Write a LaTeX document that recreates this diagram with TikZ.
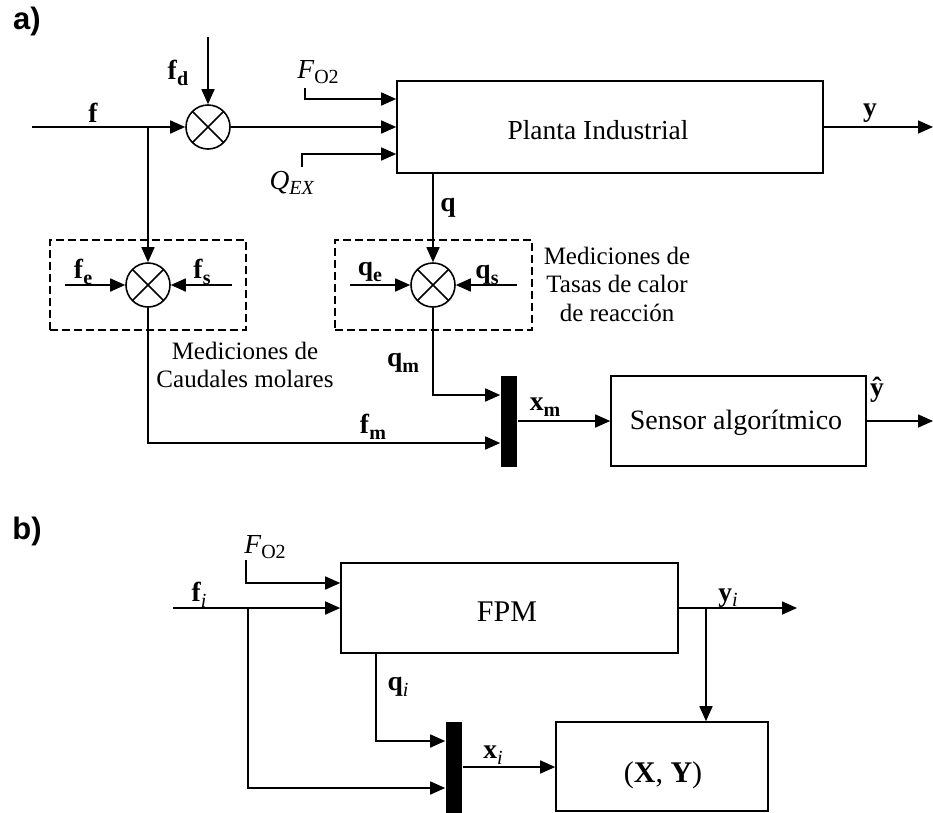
\documentclass[tikz,border=0pt]{standalone}
\usepackage{fontspec}
\setmainfont{Liberation Serif}
\newfontfamily\labfont{Liberation Sans}
\usetikzlibrary{arrows.meta}
\newcommand{\lsub}[1]{\raisebox{-0.2em}{\fontsize{20}{20}\selectfont #1}}
\begin{document}
\begin{tikzpicture}[x=1pt,y=-1pt, font=\fontsize{27.5}{30}\selectfont, line width=1.6pt,
  arr/.style={-{Triangle[length=15pt,width=13pt]}},
  blk/.style={draw, rectangle, inner sep=0, line width=1.6pt},
  sumx/.style={circle, draw, minimum size=44pt, inner sep=0,
    path picture={\draw[line width=1.6pt] (path picture bounding box.north west) -- (path picture bounding box.south east)
      (path picture bounding box.north east) -- (path picture bounding box.south west);}},
  mux/.style={fill=black, draw=none, minimum width=16pt, minimum height=91pt, inner sep=0},
  meas/.style={draw, dash pattern=on 8pt off 4pt, line width=1.4pt, inner sep=0},
  lab/.style={inner sep=0},
  big/.style={inner sep=0, font=\fontsize{30}{32}\selectfont},
  note/.style={inner sep=0, align=center, font=\fontsize{25}{28.5}\selectfont},
  part/.style={inner sep=0, font=\labfont\bfseries\fontsize{31}{34}\selectfont}]
\useasboundingbox (0,0) rectangle (933,812);

% ---------------- part a ----------------
\node[part] (pa) at (27,21) {a)};

\node[blk, minimum width=426pt, minimum height=92pt] (plant) at (610,127) {};
\node[lab] (planttxt) at (598,130) {Planta Industrial};

\node[sumx] (c1) at (208,127) {};
\node[sumx] (c2) at (148,285) {};
\node[sumx] (c3) at (433,285) {};

\node[meas, minimum width=196pt, minimum height=90pt] (mc1) at (148,285) {};
\node[meas, minimum width=197pt, minimum height=90pt] (mc2) at (433.5,285) {};

\node[mux] (mux1) at (509,421) {};
\node[blk, minimum width=255pt, minimum height=90pt] (sensor) at (738.5,421) {};
\node[lab, font=\fontsize{28}{30}\selectfont] (sensortxt) at (736,423) {Sensor algorítmico};

\coordinate (fs0) at (32,127);
\coordinate (br1) at (148,127);
\coordinate (fds) at (208,37);
\coordinate (fo2s) at (305,88);
\coordinate (qexs) at (302,167);
\coordinate (yend) at (933,127);
\coordinate (fes) at (65,285);
\coordinate (fss) at (232,285);
\coordinate (qes) at (350,285);
\coordinate (qss) at (517,285);
\coordinate (yhend) at (933,421);

\draw[arr] (fs0) -- (c1);
\draw[arr] (fds) -- (c1);
\draw[arr] (c1) -- (plant.west |- c1);
\draw[arr] (fo2s) |- ([yshift=28pt]plant.west);
\draw[arr] (qexs) |- ([yshift=-27pt]plant.west);
\draw[arr] (plant.east) -- (yend);
\draw[arr] (c3 |- plant.south) -- (c3);
\draw[arr] (br1) -- (c2);
\draw[arr] (fes) -- (c2);
\draw[arr] (fss) -- (c2);
\draw[arr] (qes) -- (c3);
\draw[arr] (qss) -- (c3);
\draw[arr] (c2.south) |- ([yshift=-22pt]mux1.west);
\draw[arr] (c3.south) |- ([yshift=26pt]mux1.west);
\draw[arr] (mux1.east) -- (sensor.west);
\draw[arr] (sensor.east) -- (yhend);

\node[lab] (lf) at (93,113) {\textbf{f}};
\node[lab] (lfd) at (178,73) {\textbf{f}\lsub{\textbf{d}}};
\node[lab] (lfo2) at (318,72) {\textit{F}\lsub{O2}};
\node[lab] (lqex) at (292,183) {\textit{Q}\lsub{\textit{EX}}};
\node[lab] (ly) at (870,113) {\textbf{y}};
\node[lab] (lq) at (448,208) {\textbf{q}};
\node[lab] (lfe) at (83,272) {\textbf{f}\lsub{\textbf{e}}};
\node[lab] (lfs) at (202,272) {\textbf{f}\lsub{\textbf{s}}};
\node[lab] (lqe) at (370,272) {\textbf{q}\lsub{\textbf{e}}};
\node[lab] (lqs) at (487,275) {\textbf{q}\lsub{\textbf{s}}};
\node[lab] (lqm) at (403,363) {\textbf{q}\lsub{\textbf{m}}};
\node[lab] (lfm) at (373,427) {\textbf{f}\lsub{\textbf{m}}};
\node[lab] (lxm) at (545,407) {\textbf{x}\lsub{\textbf{m}}};
\node[lab] (lyh) at (877,390) {\textbf{ŷ}};
\node[note] (mtxt1) at (245,365) {Mediciones de\\Caudales molares};
\node[note] (mtxt2) at (617,284) {Mediciones de\\Tasas de calor\\de reacción};

% ---------------- part b ----------------
\node[part] (pb) at (27,531) {b)};

\node[blk, minimum width=337pt, minimum height=90pt] (fpm) at (509.5,608) {};
\node[big] (fpmtxt) at (507,612) {FPM};
\node[mux] (mux2) at (454,767) {};
\node[blk, minimum width=212pt, minimum height=89pt] (xy) at (662,766.5) {};
\node[big] (xytxt) at (663,775) {(\textbf{X}, \textbf{Y})};

\coordinate (fis) at (173,608);
\coordinate (br2) at (248,608);
\coordinate (fo2b) at (246,560);
\coordinate (yiend) at (797,608);
\coordinate (br3) at (706,608);

\draw[arr] (fis) -- (fpm.west);
\draw[arr] (fo2b) |- ([yshift=25pt]fpm.west);
\draw[arr] (br2) |- ([yshift=-21pt]mux2.west);
\draw[arr] ([xshift=-133.5pt]fpm.south) |- ([yshift=26pt]mux2.west);
\draw[arr] (mux2.east) -- (mux2.east -| xy.west);
\draw[arr] (fpm.east) -- (yiend);
\draw[arr] (br3) -- (br3 |- xy.north);

\node[lab] (lfo2b) at (265,547) {\textit{F}\lsub{O2}};
\node[lab] (lfi) at (199,595) {\textbf{f}\lsub{\textit{i}}};
\node[lab] (lqi) at (398,687) {\textbf{q}\lsub{\textit{i}}};
\node[lab] (lxi) at (493,755) {\textbf{x}\lsub{\textit{i}}};
\node[lab] (lyi) at (728,598) {\textbf{y}\lsub{\textit{i}}};
\end{tikzpicture}
\end{document}
